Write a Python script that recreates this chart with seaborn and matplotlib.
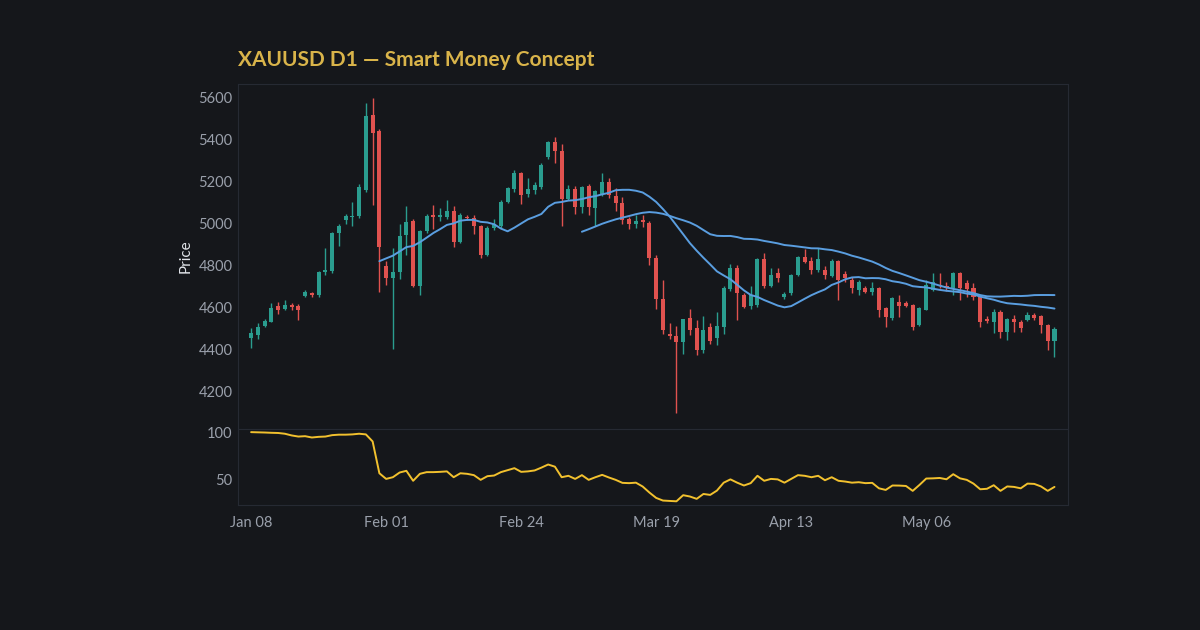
import matplotlib.pyplot as plt
import numpy as np
import pandas as pd
import seaborn as sns

# OHLC, one candle per trading day
opens = [4452, 4468, 4513, 4532, 4604, 4590, 4610, 4605, 4652, 4668,
         4660, 4770, 4772, 4955, 5015, 5030, 5038, 5160, 5519, 5440,
         4795, 4740, 4770, 4946, 5013, 4700, 4965, 5040, 5033, 5033,
         5062, 4914, 5030, 5027, 4989, 4850, 4978, 4990, 5105, 5165,
         5240, 5141, 5160, 5176, 5317, 5387, 5346, 5117, 5165, 5078,
         5180, 5075, 5140, 5196, 5132, 5100, 5020, 5000, 5015, 5004,
         4834, 4638, 4473, 4463, 4436, 4548, 4500, 4396, 4508, 4452,
         4508, 4687, 4787, 4659, 4605, 4611, 4830, 4702, 4762, 4650,
         4667, 4755, 4839, 4822, 4778, 4778, 4750, 4822, 4760, 4731,
         4683, 4691, 4675, 4691, 4596, 4548, 4627, 4622, 4611, 4516,
         4588, 4683, 4705, 4700, 4691, 4766, 4718, 4691, 4648, 4543,
         4532, 4580, 4484, 4545, 4532, 4540, 4564, 4559, 4516, 4441]
highs = [4500, 4523, 4545, 4620, 4625, 4635, 4620, 4615, 4685, 4675,
         4775, 4885, 4960, 5000, 5045, 5105, 5190, 5575, 5598, 5450,
         4820, 4885, 5000, 5085, 5020, 4970, 5045, 5090, 5075, 5110,
         5085, 5050, 5040, 5040, 4995, 4990, 5020, 5110, 5175, 5255,
         5245, 5215, 5200, 5290, 5395, 5415, 5380, 5185, 5180, 5180,
         5190, 5160, 5240, 5215, 5170, 5125, 5030, 5040, 5040, 5010,
         4850, 4730, 4525, 4510, 4545, 4590, 4540, 4560, 4525, 4580,
         4700, 4805, 4800, 4670, 4700, 4835, 4860, 4790, 4790, 4675,
         4760, 4845, 4880, 4840, 4885, 4795, 4830, 4825, 4775, 4747,
         4730, 4700, 4723, 4695, 4600, 4650, 4660, 4630, 4615, 4600,
         4730, 4763, 4763, 4720, 4770, 4770, 4730, 4715, 4655, 4560,
         4590, 4585, 4550, 4565, 4540, 4580, 4575, 4565, 4520, 4508]
lows = [4405, 4450, 4505, 4528, 4570, 4585, 4585, 4540, 4648, 4650,
        4650, 4755, 4765, 4895, 5000, 4990, 5025, 5150, 5090, 4675,
        4705, 4400, 4735, 4850, 4695, 4660, 4955, 4975, 5010, 5020,
        4890, 4905, 5015, 4950, 4835, 4845, 4970, 4980, 5100, 5150,
        5095, 5125, 5140, 5165, 5310, 5290, 4990, 5110, 5045, 5050,
        5040, 4990, 5130, 5120, 5060, 5000, 4975, 4980, 4985, 4800,
        4590, 4475, 4450, 4095, 4375, 4470, 4370, 4380, 4425, 4420,
        4475, 4680, 4540, 4595, 4590, 4600, 4690, 4695, 4720, 4640,
        4660, 4750, 4810, 4760, 4770, 4735, 4745, 4635, 4720, 4667,
        4660, 4670, 4660, 4555, 4505, 4540, 4556, 4600, 4492, 4510,
        4585, 4680, 4690, 4680, 4660, 4635, 4650, 4635, 4505, 4525,
        4476, 4452, 4445, 4484, 4484, 4535, 4540, 4476, 4396, 4365]
closes = [4476, 4508, 4537, 4596, 4588, 4612, 4600, 4585, 4672, 4660,
          4770, 4778, 4955, 4988, 5035, 5038, 5172, 5514, 5431, 4890,
          4740, 4770, 4942, 5009, 4700, 4965, 5036, 5032, 5040, 5062,
          4914, 5041, 5025, 4990, 4850, 4978, 4998, 5105, 5169, 5240,
          5137, 5165, 5184, 5280, 5387, 5344, 5116, 5165, 5078, 5172,
          5080, 5153, 5196, 5135, 5097, 5017, 5000, 5014, 5005, 4834,
          4638, 4492, 4462, 4436, 4543, 4492, 4396, 4492, 4440, 4511,
          4691, 4787, 4670, 4600, 4660, 4830, 4700, 4754, 4740, 4665,
          4755, 4839, 4818, 4778, 4830, 4755, 4822, 4730, 4738, 4691,
          4723, 4675, 4690, 4588, 4556, 4643, 4604, 4607, 4508, 4596,
          4707, 4723, 4700, 4690, 4766, 4691, 4686, 4648, 4532, 4535,
          4580, 4484, 4545, 4529, 4500, 4564, 4548, 4516, 4441, 4495]
# lower panel indicator
osc = [100.7, 100.5, 100.3, 100, 99.8, 99, 97.2, 96, 96.4, 95,
       95.7, 96, 97.5, 98, 98, 98.3, 99, 98.3, 90.8, 57,
       51, 52.8, 57.8, 59.6, 49, 56.4, 58.2, 58.2, 58.5, 59,
       52.8, 57, 56.4, 55, 50, 53.9, 54.6, 58.2, 60.3, 62.4,
       58.5, 59, 60, 63, 66.3, 64, 52.8, 54.3, 51, 55,
       50, 52.8, 55.3, 52.5, 50, 46.8, 46.5, 47, 42.9, 36.5,
       30.8, 28, 27.6, 27.2, 33.7, 32.3, 29.8, 35, 34, 38.6,
       47, 50.5, 47, 44, 46.5, 54.3, 49, 51, 50.5, 47,
       51, 55, 54.3, 52.8, 54.3, 49.6, 52.8, 49, 48.2, 47,
       47.5, 46.5, 46.8, 41, 39.3, 44, 43.9, 43.5, 38.3, 44.6,
       51.4, 51.6, 52, 50.6, 56, 51.6, 50, 46, 40, 40.5,
       44.3, 38.3, 43, 42.5, 41, 46, 45.7, 43, 38.3, 42.5]
tick_pos = [0, 20, 40, 60, 80, 100, 120]
tick_labels = ['Jan 08', 'Feb 01', 'Feb 24', 'Mar 19', 'Apr 13', 'May 06', '']

df = pd.DataFrame({'i': np.arange(len(closes)), 'open': opens, 'high': highs,
                   'low': lows, 'close': closes, 'osc': osc})
df['ma20'] = df['close'].rolling(20).mean()
df['ma50'] = df['close'].rolling(50).mean()

BG = '#15171b'
UP, DOWN = '#2a9d8f', '#e0524f'
sns.set_theme(style='dark')
plt.rcParams['font.family'] = ['Lato', 'DejaVu Sans']

fig = plt.figure(figsize=(12, 6.3), dpi=100, facecolor=BG)
ax = fig.add_axes([0.198, 0.319, 0.692, 0.548])
ax2 = fig.add_axes([0.198, 0.198, 0.692, 0.121], sharex=ax)

colors = np.where(df['close'] >= df['open'], UP, DOWN)
ax.vlines(df['i'], df['low'], df['high'], colors=colors, linewidth=1)
ax.bar(df['i'], (df['close'] - df['open']).abs().clip(lower=4),
       bottom=np.minimum(df['open'], df['close']), width=0.6, color=colors,
       edgecolor='none', linewidth=0)
sns.lineplot(data=df, x='i', y='ma20', ax=ax, color='#5a9ee0', linewidth=1.4)
sns.lineplot(data=df, x='i', y='ma50', ax=ax, color='#5a9ee0', linewidth=1.4)
sns.lineplot(data=df, x='i', y='osc', ax=ax2, color='#f2c12e', linewidth=1.4)

for a in (ax, ax2):
    a.set_facecolor(BG)
    for s in a.spines.values():
        s.set_visible(True)
        s.set_color('#262a33')
        s.set_linewidth(0.8)
    a.tick_params(colors='#9aa0ab', labelsize=10.5, length=0)
    a.grid(False)
    a.set_xlabel('')

ax.set_xlim(-2, 121)
ax.set_ylim(4019, 5667)
ax.set_yticks(range(4200, 5601, 200))
ax.set_ylabel('Price', color='#e0e3e8', fontsize=11)
ax.tick_params(axis='x', labelbottom=False)
ax2.set_ylim(23, 104)
ax2.set_yticks([50, 100])
ax2.set_ylabel('')
ax2.set_xticks(tick_pos)
ax2.set_xticklabels(tick_labels)
ax2.tick_params(axis='x', length=4, color='#9aa0ab')

fig.text(0.198, 0.905, 'XAUUSD D1 — Smart Money Concept', color='#d9b44a',
         fontsize=15, fontweight='bold', ha='left', va='center')

fig.savefig('out.png', facecolor=BG)
